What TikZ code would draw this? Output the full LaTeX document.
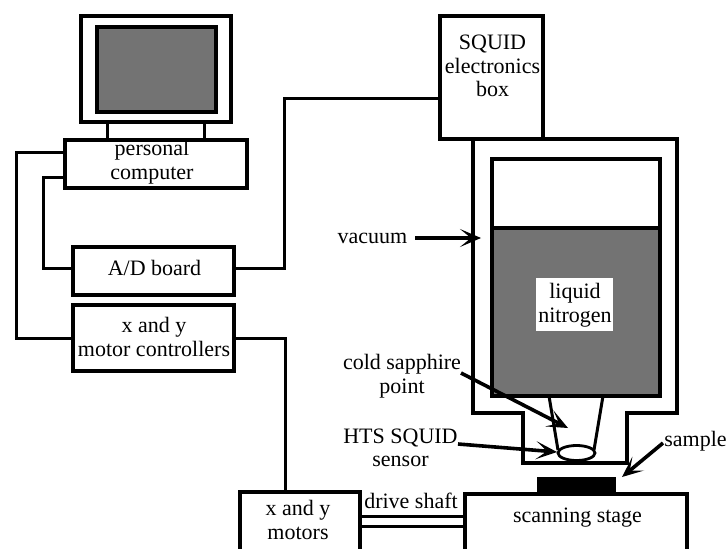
\documentclass[tikz,border=0pt]{standalone}
\usepackage{fontspec}
\setmainfont{Liberation Serif}
\usetikzlibrary{arrows.meta,shapes.geometric}
\tikzset{
  blk/.style={draw=black,line width=3.4pt,fill=none,inner sep=0pt,outer sep=0pt,align=center,text=black},
  wire/.style={draw=black,line width=3pt,line join=miter},
  lab/.style={inner sep=0pt,align=center,font=\fontsize{22}{23.5}\selectfont},
  pointer/.style={draw=black,line width=3.6pt,-{Stealth[length=21pt,width=18pt,inset=11pt]}},
  shade/.style={fill=black!55,draw=black,line width=3.6pt}
}
\newcommand{\boxnode}[5]{% name, x1, y1, x2, y2
  \node[blk,minimum width={(#4-#2)*1pt},minimum height={(#5-#3)*1pt}] (#1) at ({(#2+#4)/2},{(#3+#5)/2}) {};
}
\begin{document}
\begin{tikzpicture}[x=1pt,y=-1pt]
\clip (0,0) rectangle (727,548);
\fill[white] (0,0) rectangle (727,548);
% monitor
\boxnode{mon}{81}{16}{231}{122}
\node[shade,inner sep=0pt,outer sep=0pt,minimum width=119pt,minimum height=85pt] (scr) at (156.5,69.5) {};
% boxes
\boxnode{pc}{65}{140}{247}{188}
\boxnode{ad}{73}{247}{234}{295}
\boxnode{mc}{73}{305}{234}{371}
\boxnode{sq}{440}{16}{543}{139}
\boxnode{mo}{240}{492}{360}{560}
\boxnode{st}{465}{494}{687}{560}
\draw[wire] (mon.south -| 107,0) -- (pc.north -| 107,0) (mon.south -| 204,0) -- (pc.north -| 204,0);
% dewar
\draw[blk] (473,139) -- (473,413) -- (523,413) -- (523,463) -- (627,463) -- (627,413) -- (677,413) -- (677,139) -- cycle;
\draw[blk] (492,159) rectangle (660,396);
\draw[shade] (492,228) rectangle (660,396);
\fill[white] (536,278) rectangle (613,331);
\draw[wire] (549,396) -- (558,450) (603,396) -- (594,450);
\node[draw=black,line width=2.8pt,fill=white,ellipse,minimum width=37pt,minimum height=15pt,inner sep=0pt] (hts) at (576.5,453) {};
\fill[black] (537,477) rectangle (616,494);
% shafts
\draw[wire] (mo.east |- 0,516) -- (st.west |- 0,516) (mo.east |- 0,526) -- (st.west |- 0,526);
% wires
\draw[wire] (pc.west |- 0,153) -- (16,153) -- (16,338) -- (mc.west |- 0,338);
\draw[wire] (pc.west |- 0,177) -- (43,177) -- (43,268) -- (ad.west |- 0,268);
\draw[wire] (ad.east |- 0,268) -- (284,268) -- (284,99) -- (sq.west |- 0,99);
\draw[wire] (mc.east |- 0,338) -- (285,338) -- (mo.north -| 285,0);
% text
\node[lab] at (152,162) {personal\\computer};
\node[lab] at (154.5,268) {A/D board};
\node[lab] at (154,337) {x and y\\motor controllers};
\node[lab] at (492.5,66) {SQUID\\electronics\\box};
\node[lab] at (298,520) {x and y\\motors};
\node[lab] at (575,305) {liquid\\nitrogen};
\node[lab] at (577.5,518) {scanning stage};
\node[lab] at (411,501) {drive shaft};
\node[lab] (vac) at (372.5,238) {vacuum};
\node[lab] (cold) at (402,376) {cold sapphire\\point};
\node[lab] (sens) at (400.5,448) {HTS SQUID\\sensor};
\node[lab] (samp) at (695.5,441) {sample};
% pointers
\coordinate (p1) at (415,238); \coordinate (p1e) at (481,238);
\draw[pointer] (p1) -- (p1e);
\coordinate (p2) at (461,373); \coordinate (p2e) at (568,428);
\draw[pointer] (p2) -- (p2e);
\coordinate (p3) at (458,444); \coordinate (p3e) at (557,452);
\draw[pointer] (p3) -- (p3e);
\coordinate (p4) at (663,443); \coordinate (p4e) at (622,477);
\draw[pointer] (p4) -- (p4e);
\end{tikzpicture}
\end{document}
